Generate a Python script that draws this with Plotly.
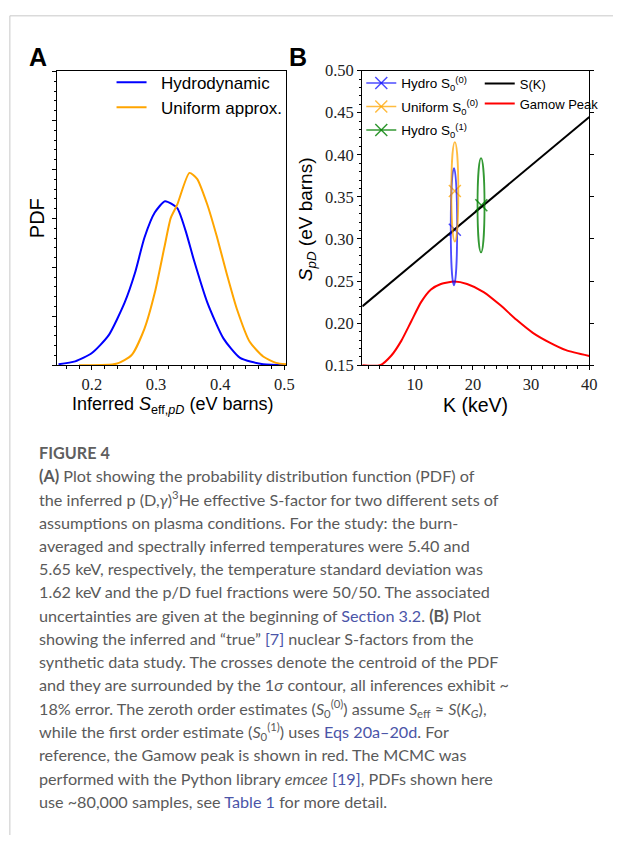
import plotly.graph_objects as go

W, H = 621, 845

# ---------------- Panel A data (PDF of inferred S_eff) ----------------
hydro_x = [0.148, 0.174, 0.200, 0.226, 0.251, 0.267, 0.282, 0.298, 0.314, 0.333,
           0.346, 0.359, 0.380, 0.405, 0.431, 0.467, 0.503]
hydro_pdf = [0.02, 0.08, 0.25, 0.61, 1.28, 1.88, 2.61, 3.12, 3.35, 3.21,
             2.75, 2.15, 1.28, 0.55, 0.15, 0.02, 0.0]
unif_x = [0.180, 0.238, 0.262, 0.282, 0.298, 0.313, 0.323, 0.333, 0.352, 0.364,
          0.380, 0.395, 0.410, 0.426, 0.446, 0.467, 0.487, 0.503]
unif_pdf = [0.0, 0.03, 0.21, 0.75, 1.48, 2.41, 3.01, 3.28, 3.93, 3.81,
            3.28, 2.62, 1.88, 1.15, 0.48, 0.18, 0.05, 0.02]

# ---------------- Panel B data ----------------
sk_K = [1, 40]
sk_S = [0.220, 0.445]
gamow_K = [1, 4.05, 6.0, 7.7, 9.4, 11.1, 12.8, 14.5, 16.8, 19.0, 21.85, 24.7,
           27.5, 30.3, 33.2, 36.0, 40]
gamow_S = [0.150, 0.150, 0.1616, 0.179, 0.202, 0.225, 0.240, 0.2466, 0.2495, 0.2466,
           0.237, 0.2215, 0.204, 0.1886, 0.177, 0.168, 0.161]

est_names = ["Hydro S<sub>0</sub><sup>(0)</sup>", "Uniform S<sub>0</sub><sup>(0)</sup>",
             "Hydro S<sub>0</sub><sup>(1)</sup>"]
est_colors = ["rgba(0,0,255,0.7)", "rgba(255,165,0,0.75)", "rgba(0,128,0,0.8)"]
cross_K = [16.9, 16.9, 21.45]
cross_S = [0.311, 0.357, 0.340]
ell_cK = [16.75, 16.9, 21.4]
ell_cS = [0.3145, 0.356, 0.340]
ell_hK = [0.55, 0.6, 0.6]
ell_hS = [0.0695, 0.059, 0.056]

caption_lines = [
    "<b>FIGURE 4</b>",
    "<b>(A)</b> Plot showing the probability distribution function (PDF) of",
    "the inferred p (D,<i>γ</i>)<sup>3</sup>He effective S-factor for two different sets of",
    "assumptions on plasma conditions. For the study: the burn-",
    "averaged and spectrally inferred temperatures were 5.40 and",
    "5.65 keV, respectively, the temperature standard deviation was",
    "1.62 keV and the p/D fuel fractions were 50/50. The associated",
    "uncertainties are given at the beginning of <span style='color:#4b55a8'>Section 3.2</span>. <b>(B)</b> Plot",
    "showing the inferred and “true” <span style='color:#4b55a8'>[7]</span> nuclear S-factors from the",
    "synthetic data study. The crosses denote the centroid of the PDF",
    "and they are surrounded by the 1<i>σ</i> contour, all inferences exhibit ~",
    "18% error. The zeroth order estimates (<i>S</i><sub>0</sub><sup>(0)</sup>) assume <i>S</i><sub>eff</sub> ≈ <i>S</i>(<i>K</i><sub><i>G</i></sub>),",
    "while the first order estimate (<i>S</i><sub>0</sub><sup>(1)</sup>) uses <span style='color:#4b55a8'>Eqs 20a–20d</span>. For",
    "reference, the Gamow peak is shown in red. The MCMC was",
    "performed with the Python library <i>emcee</i> <span style='color:#4b55a8'>[19]</span>, PDFs shown here",
    "use ~80,000 samples, see <span style='color:#4b55a8'>Table 1</span> for more detail.",
]


def px(x):
    return x / W


def py(y):
    return 1 - y / H


SANS = "Liberation Sans"
SERIF = "Liberation Serif"

fig = go.Figure()

fig.add_trace(go.Scatter(x=hydro_x, y=hydro_pdf, mode="lines", name="&nbsp;&nbsp;Hydrodynamic",
                         line=dict(color="#0000ff", width=2, shape="spline", smoothing=0.6),
                         xaxis="x", yaxis="y", legend="legend", legendgroup="a1"))
fig.add_trace(go.Scatter(x=unif_x, y=unif_pdf, mode="lines", name="&nbsp;&nbsp;Uniform approx.",
                         line=dict(color="#ffa500", width=2, shape="spline", smoothing=0.6),
                         xaxis="x", yaxis="y", legend="legend", legendgroup="a2"))

for i in range(3):
    fig.add_trace(go.Scatter(x=[cross_K[i]], y=[cross_S[i]], mode="lines+markers",
                             name=est_names[i],
                             marker=dict(symbol="x-thin", size=12,
                                         line=dict(color=est_colors[i], width=1.5)),
                             line=dict(color=est_colors[i], width=1.5),
                             xaxis="x2", yaxis="y2", legend="legend2", legendgroup="b%d" % i))
    fig.add_shape(type="circle", xref="x2", yref="y2",
                  x0=ell_cK[i] - ell_hK[i], x1=ell_cK[i] + ell_hK[i],
                  y0=ell_cS[i] - ell_hS[i], y1=ell_cS[i] + ell_hS[i],
                  line=dict(color=est_colors[i], width=1.8), layer="above")

fig.add_trace(go.Scatter(x=sk_K, y=sk_S, mode="lines", name="S(K)",
                         line=dict(color="black", width=2),
                         xaxis="x2", yaxis="y2", legend="legend3", legendgroup="c1"))
fig.add_trace(go.Scatter(x=gamow_K, y=gamow_S, mode="lines", name="Gamow Peak",
                         line=dict(color="red", width=2, shape="spline", smoothing=0.6),
                         xaxis="x2", yaxis="y2", legend="legend3", legendgroup="c2"))
# invisible trace so the right-hand tick axis is drawn
fig.add_trace(go.Scatter(x=[sk_K[0]], y=[sk_S[0]], mode="markers", marker=dict(opacity=0),
                         showlegend=False, hoverinfo="skip", xaxis="x2", yaxis="y3"))

axis_common = dict(showline=True, linecolor="black", linewidth=1.2, ticks="outside",
                   tickcolor="black", showgrid=False, zeroline=False,
                   tickfont=dict(family=SERIF, size=16.5, color="#222"))

xdomA = [px(58), px(290)]
xdomB = [px(367), px(597)]
ydom = [py(364.5), py(63)]

fig.update_layout(
    width=W, height=H, margin=dict(l=0, r=0, t=0, b=0),
    paper_bgcolor="white", plot_bgcolor="white",
    xaxis=dict(domain=xdomA, anchor="y", range=[0.146, 0.503], tick0=0.2, dtick=0.1,
               ticklen=4, mirror=True,
               minor=dict(dtick=0.02, ticklen=2.5, ticks="outside", tickcolor="black"),
               **axis_common),
    yaxis=dict(domain=ydom, anchor="x", range=[0, 6.02], dtick=1, showticklabels=False,
               ticklen=4, mirror=True,
               minor=dict(dtick=0.2, ticklen=2.5, ticks="outside", tickcolor="black"),
               **axis_common),
    xaxis2=dict(domain=xdomB, anchor="y2", range=[1, 40], tick0=0, dtick=10,
                ticklen=4, mirror=True,
                minor=dict(dtick=2, ticklen=2.5, ticks="outside", tickcolor="black"),
                **axis_common),
    yaxis2=dict(domain=ydom, anchor="x2", range=[0.15, 0.50], tick0=0.15, dtick=0.05,
                tickformat=".2f", ticklen=4, mirror=True,
                minor=dict(dtick=0.01, ticklen=2.5, ticks="outside", tickcolor="black"),
                **axis_common),
    yaxis3=dict(overlaying="y2", anchor="x2", side="right", range=[0.15, 0.50],
                tick0=0.15, dtick=0.05, ticks="outside", ticklen=4, tickcolor="black",
                showticklabels=False, showline=False, showgrid=False, zeroline=False),
    legend=dict(x=px(113), y=py(57), xanchor="left", yanchor="top",
                bgcolor="rgba(0,0,0,0)", font=dict(family=SANS, size=17, color="black"),
                itemwidth=30, tracegroupgap=0),
    legend2=dict(x=px(366), y=py(60), xanchor="left", yanchor="top",
                 bgcolor="rgba(0,0,0,0)", font=dict(family=SANS, size=13.5, color="black"),
                 itemwidth=30, tracegroupgap=3),
    legend3=dict(x=px(486), y=py(61), xanchor="left", yanchor="top",
                 bgcolor="rgba(0,0,0,0)", font=dict(family=SANS, size=13, color="black"),
                 itemwidth=30, tracegroupgap=0),
)

ann = []
# panel letters
ann.append(dict(text="<b>A</b>", x=px(39), y=py(49), font=dict(family=SANS, size=25, color="black")))
ann.append(dict(text="<b>B</b>", x=px(302), y=py(49), font=dict(family=SANS, size=25, color="black")))
# axis titles
ann.append(dict(text="Inferred <i>S</i><sub>eff,<i>pD</i></sub> (eV barns)", x=px(175), y=py(406),
                font=dict(family=SANS, size=18, color="black")))
ann.append(dict(text="PDF", x=px(37.5), y=py(214), textangle=-90,
                font=dict(family=SANS, size=20, color="black")))
ann.append(dict(text="K (keV)", x=px(482), y=py(405),
                font=dict(family=SANS, size=19.5, color="black")))
ann.append(dict(text="<i>S</i><sub><i>pD</i></sub> (eV barns)", x=px(311), y=py(215), textangle=-90,
                font=dict(family=SANS, size=19, color="black")))
for a in ann:
    a.update(xref="paper", yref="paper", showarrow=False, xanchor="center", yanchor="middle")

cap = []
y0 = 454
for i, line in enumerate(caption_lines):
    yy = y0 + (0 if i == 0 else 23.3 + (i - 1) * 23.8)
    cap.append(dict(text=line, x=px(37), y=py(yy), xref="paper", yref="paper", showarrow=False,
                    xanchor="left", yanchor="middle",
                    font=dict(family="Lato", size=16.2, color="#5a5a5a" if i else "#5f5f5f")))

fig.update_layout(annotations=ann + cap)

# page frame lines
fig.add_shape(type="line", xref="paper", yref="paper", x0=px(10), x1=1, y0=py(7), y1=py(7),
              line=dict(color="#c8c8c8", width=1))
fig.add_shape(type="line", xref="paper", yref="paper", x0=px(10), x1=px(10), y0=py(7), y1=0,
              line=dict(color="#c8c8c8", width=1))

fig.write_html("out.html")
